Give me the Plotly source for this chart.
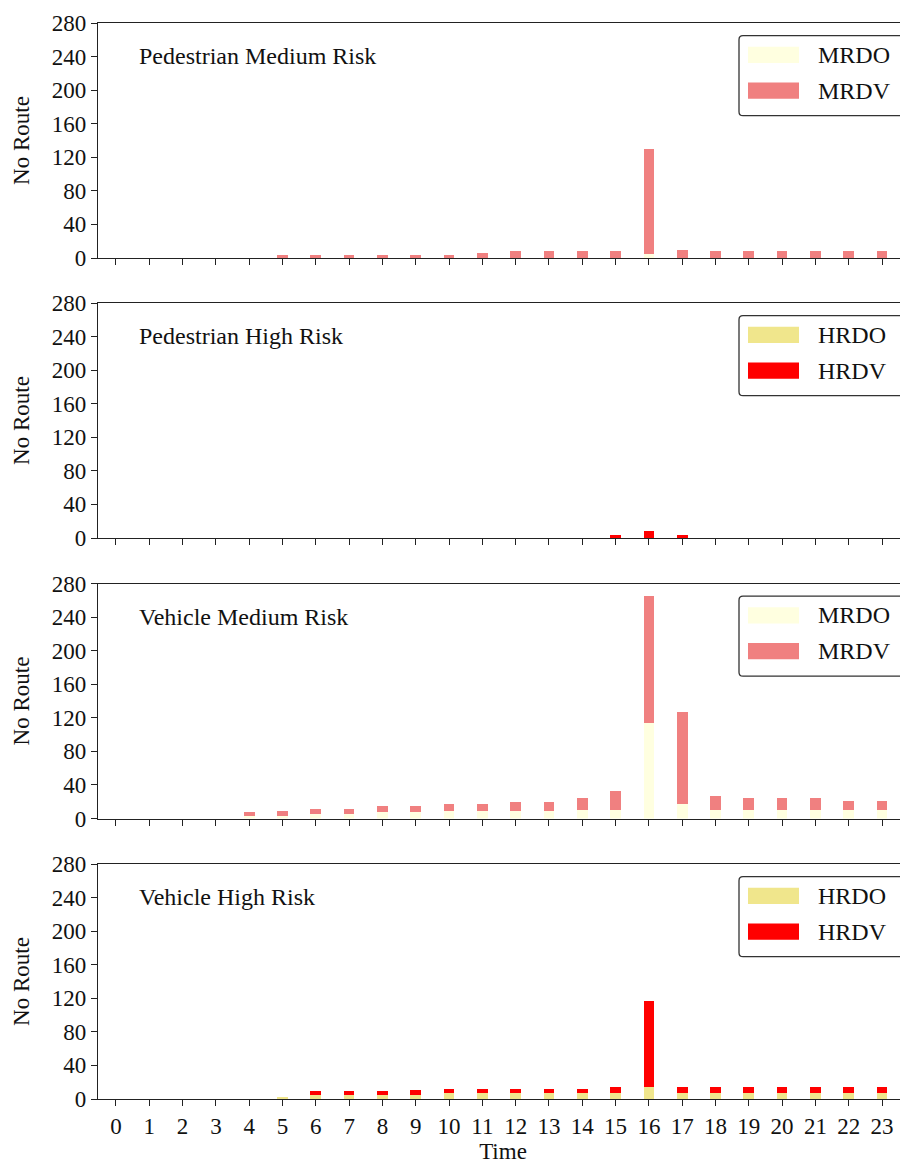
import plotly.graph_objects as go

# browser body margin is 8px; figure is laid out in window pixels and offset
OFF = 8
WIN_W, WIN_H = 908, 1164
W, H = WIN_W - OFF, WIN_H - OFF

hours = list(range(24))
tick_labels = [str(h) for h in hours]

ped_mrdo = [0, 0, 0, 0, 0, 0, 0, 0, 0, 0, 0, 0, 0, 0, 0, 0, 5, 0, 0, 0, 0, 0, 0, 0]
ped_mrdv = [0, 0, 0, 0, 0, 3, 3, 3, 3, 4, 4, 6, 8, 8, 8, 8, 125, 10, 8, 8, 8, 8, 8, 8]
ped_hrdo = [0] * 24
ped_hrdv = [0, 0, 0, 0, 0, 0, 0, 0, 0, 0, 0, 0, 0, 0, 0, 3, 8, 3, 0, 0, 0, 0, 0, 0]
veh_mrdo = [0, 0, 0, 0, 4, 4, 6, 6, 8, 8, 9, 9, 9, 9, 11, 11, 114, 18, 11, 11, 11, 11, 11, 11]
veh_mrdv = [0, 0, 0, 0, 4, 6, 6, 6, 7, 7, 9, 9, 11, 11, 14, 22, 152, 110, 16, 14, 14, 14, 11, 11]
veh_hrdo = [0, 0, 0, 0, 0, 2, 5, 5, 5, 5, 7, 7, 7, 7, 7, 7, 14, 7, 7, 7, 7, 7, 7, 7]
veh_hrdv = [0, 0, 0, 0, 0, 0, 4, 4, 4, 6, 5, 5, 5, 5, 5, 7, 103, 7, 7, 7, 7, 7, 7, 7]

panel_titles = ["Pedestrian Medium Risk", "Pedestrian High Risk",
                "Vehicle Medium Risk", "Vehicle High Risk"]
series = [
    (("MRDO", ped_mrdo), ("MRDV", ped_mrdv)),
    (("HRDO", ped_hrdo), ("HRDV", ped_hrdv)),
    (("MRDO", veh_mrdo), ("MRDV", veh_mrdv)),
    (("HRDO", veh_hrdo), ("HRDV", veh_hrdv)),
]
colors = {"MRDO": "#FFFFE0", "MRDV": "#F08080", "HRDO": "#F0E68C", "HRDV": "#FF0000"}

FONT = "Liberation Serif"
TXT = "#111"
LEFT = 98
tops = [23, 303, 583.5, 864]
PH = 235


def px(x):
    return (x - OFF) / W


def py(y):
    return 1 - (y - OFF) / H


fig = go.Figure()
shapes = []
annotations = []

for i in range(4):
    top = tops[i]
    bot = top + PH
    xa = "x" if i == 0 else f"x{i+1}"
    ya = "y" if i == 0 else f"y{i+1}"
    for name, vals in series[i]:
        fig.add_trace(go.Bar(x=hours, y=vals, name=name, xaxis=xa, yaxis=ya,
                             marker=dict(color=colors[name], line=dict(width=0)),
                             width=0.32, showlegend=False))
    xkey = "xaxis" if i == 0 else f"xaxis{i+1}"
    ykey = "yaxis" if i == 0 else f"yaxis{i+1}"
    fig.layout[xkey] = dict(
        domain=[px(LEFT), 1], anchor=ya, range=[-0.54, 23.78],
        tickmode="array", tickvals=hours, ticktext=tick_labels,
        showticklabels=(i == 3), ticks="outside", ticklen=6, tickwidth=1.2,
        tickcolor="#222", showline=True, linecolor="#222", linewidth=1.3,
        mirror=True, showgrid=False, zeroline=False, automargin=False,
        tickfont=dict(family=FONT, size=23, color=TXT),
        title=dict(text="Time" if i == 3 else "", font=dict(family=FONT, size=23, color=TXT),
                   standoff=3),
    )
    fig.layout[ykey] = dict(
        domain=[py(bot), py(top)], anchor=xa, range=[0, 280],
        tickmode="array", tickvals=list(range(0, 281, 40)),
        ticks="outside", ticklen=6, tickwidth=1.2, tickcolor="#222",
        showline=True, linecolor="#222", linewidth=1.3, mirror=False,
        showgrid=False, zeroline=False, automargin=False,
        tickfont=dict(family=FONT, size=23, color=TXT),
        title=dict(text="No Route", font=dict(family=FONT, size=23, color=TXT), standoff=15),
    )
    # panel label
    annotations.append(dict(text=panel_titles[i], x=px(137), y=py(top + 33), xref="paper", yref="paper",
                            xanchor="left", yanchor="middle", showarrow=False,
                            font=dict(family=FONT, size=24, color=TXT)))
    # legend box (rounded)
    bx0, bx1 = 739, 904
    by0, by1 = top + 12.7, top + 92.7
    r = 4
    path = (f"M {px(bx0 + r)},{py(by0)} L {px(bx1 - r)},{py(by0)} "
            f"Q {px(bx1)},{py(by0)} {px(bx1)},{py(by0 + r)} "
            f"L {px(bx1)},{py(by1 - r)} Q {px(bx1)},{py(by1)} {px(bx1 - r)},{py(by1)} "
            f"L {px(bx0 + r)},{py(by1)} Q {px(bx0)},{py(by1)} {px(bx0)},{py(by1 - r)} "
            f"L {px(bx0)},{py(by0 + r)} Q {px(bx0)},{py(by0)} {px(bx0 + r)},{py(by0)} Z")
    shapes.append(dict(type="path", path=path, xref="paper", yref="paper",
                       line=dict(color="#333", width=1.3), fillcolor="white"))
    for k, (name, _) in enumerate(series[i]):
        sy0 = top + 23.7 + k * 35.8
        sy1 = sy0 + 16.3
        shapes.append(dict(type="rect", xref="paper", yref="paper",
                           x0=px(748), x1=px(799), y0=py(sy1), y1=py(sy0),
                           line=dict(width=0), fillcolor=colors[name]))
        annotations.append(dict(text=name, x=px(816), y=py((sy0 + sy1) / 2), xref="paper", yref="paper",
                                xanchor="left", yanchor="middle", showarrow=False,
                                font=dict(family=FONT, size=24, color=TXT)))

fig.update_layout(
    width=W, height=H, barmode="stack", bargap=0,
    margin=dict(l=0, r=0, t=0, b=0, autoexpand=False),
    plot_bgcolor="white", paper_bgcolor="white",
    shapes=shapes, annotations=annotations, showlegend=False,
)

fig.write_html("out.html")
